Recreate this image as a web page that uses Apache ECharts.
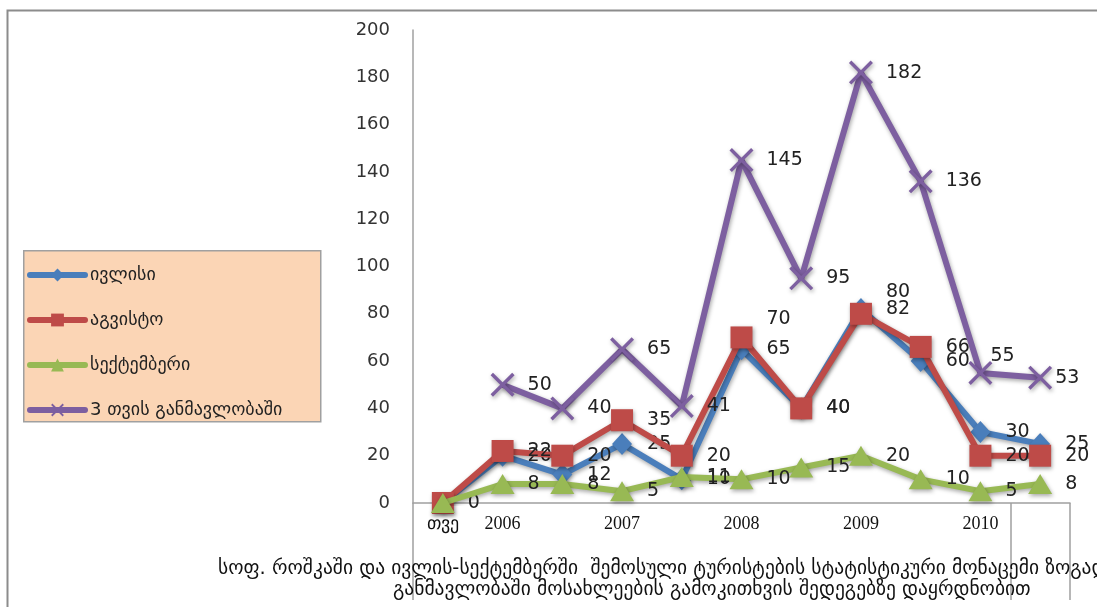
<!DOCTYPE html>
<html>
<head>
<meta charset="utf-8">
<script src="https://cdn.jsdelivr.net/npm/echarts@6/dist/echarts.min.js"></script>
<style>
html,body{margin:0;padding:0;background:#fff;}
#chart{width:1097px;height:607px;}
</style>
</head>
<body>
<div id="chart"></div>
<script>
// ---- data ----
var categories = ['თვე', '2006', '', '2007', '', '2008', '', '2009', '', '2010', ''];
var seriesNames = ['ივლისი', 'აგვისტო', 'სექტემბერი', '3 თვის განმავლობაში'];
var july      = [0, 20, 12, 25, 10, 65, 40, 82, 60, 30, 25];
var august    = [0, 22, 20, 35, 20, 70, 40, 80, 66, 20, 20];
var september = [0, 8, 8, 5, 11, 10, 15, 20, 10, 5, 8];
var total     = [null, 50, 40, 65, 41, 145, 95, 182, 136, 55, 53];
var yTicks = { min: 0, max: 200, interval: 20 };
var captionLines = [
  'სოფ. როშკაში და ივლის-სექტემბერში  შემოსული ტურისტების სტატისტიკური მონაცემი ზოგადად',
  'განმავლობაში მოსახლეების გამოკითხვის შედეგებზე დაყრდნობით'
];

// ---- style ----
var colors = ['#4A7EBB', '#BE4B48', '#98B954', '#7D5FA0'];
var labelOffsets = {
  1: { 5: [0, -18], 7: [0, -22] },
  3: { 9: [-15, -17], 10: [-10, 0] }
};
var crossPath = 'path://M0,1L1,0L10,9L9,10Z M9,0L10,1L1,10L0,9Z';

function makeSeries(idx, data, symbol, size, dist) {
  var offs = labelOffsets[idx] || {};
  return {
    name: seriesNames[idx],
    type: 'line',
    data: data.map(function (v, i) {
      var o = { value: v };
      if (offs[i]) o.label = { offset: offs[i] };
      return o;
    }),
    symbol: symbol,
    symbolSize: size,
    showAllSymbol: true,
    connectNulls: false,
    lineStyle: { width: 6, color: colors[idx], shadowColor: 'rgba(0,0,0,0.35)', shadowBlur: 4, shadowOffsetX: 1, shadowOffsetY: 2 },
    itemStyle: { color: colors[idx], borderWidth: 0, shadowColor: 'rgba(0,0,0,0.35)', shadowBlur: 4, shadowOffsetX: 1, shadowOffsetY: 2 },
    label: {
      show: true,
      position: 'right',
      distance: dist,
      color: '#222',
      fontFamily: 'DejaVu Sans',
      fontSize: 19,
      formatter: function (p) {
        if (p.value == null) return '';
        if (p.dataIndex === 0 && idx !== 1) return '';
        return String(p.value);
      }
    },
    emphasis: { disabled: true },
    animation: false,
    z: 2 + idx
  };
}

var chart = echarts.init(document.getElementById('chart'), null, { renderer: 'canvas' });
chart.setOption({
  animation: false,
  backgroundColor: '#fff',
  graphic: [
    { type: 'rect', left: 5, top: 8, shape: { width: 1200, height: 700 }, style: { fill: 'none', stroke: '#8c8c8c', lineWidth: 2 }, silent: true, z: -1 },
    { type: 'rect', left: 23, top: 250, shape: { width: 297, height: 171 }, style: { fill: '#FBD5B5', stroke: '#a0a0a0', lineWidth: 1.5 }, silent: true, z: 0 },
    { type: 'text', left: 218, top: 559, style: { text: captionLines[0], font: '19.5px "DejaVu Sans"', fill: '#111' }, silent: true, z: 10 },
    { type: 'text', left: 393, top: 580, style: { text: captionLines[1], font: '19.5px "DejaVu Sans"', fill: '#111' }, silent: true, z: 10 }
  ],
  legend: {
    orient: 'vertical',
    left: 23,
    top: 262,
    padding: [4, 4],
    itemWidth: 55,
    itemHeight: 16,
    itemGap: 27,
    data: seriesNames,
    lineStyle: { width: 6, cap: 'round' },
    textStyle: { fontFamily: 'DejaVu Sans', fontSize: 18, color: '#222' },
    z: 5
  },
  grid: { left: 413, right: 27, top: 30, bottom: 104, containLabel: false },
  xAxis: {
    type: 'category',
    data: categories,
    boundaryGap: true,
    axisLine: { show: true, lineStyle: { color: '#a0a0a0', width: 1.5 } },
    axisTick: {
      show: true,
      length: 97,
      interval: function (i) { return i === 0 || i === 10; },
      lineStyle: { color: '#a0a0a0', width: 1.5 }
    },
    axisLabel: { interval: 0, margin: 12, fontFamily: 'Liberation Serif', fontSize: 18, color: '#111' },
    splitLine: { show: false }
  },
  yAxis: {
    type: 'value',
    min: yTicks.min,
    max: yTicks.max,
    interval: yTicks.interval,
    axisLine: { show: true, lineStyle: { color: '#a0a0a0', width: 1.5 } },
    axisTick: { show: false },
    axisLabel: { margin: 23, fontFamily: 'DejaVu Sans', fontSize: 18, color: '#333' },
    splitLine: { show: false }
  },
  series: [
    makeSeries(0, july, 'diamond', [20, 22], 15),
    makeSeries(1, august, 'rect', 22, 14),
    makeSeries(2, september, 'triangle', [24, 20], 13),
    makeSeries(3, total, crossPath, 24, 13)
  ]
});
</script>
</body>
</html>
